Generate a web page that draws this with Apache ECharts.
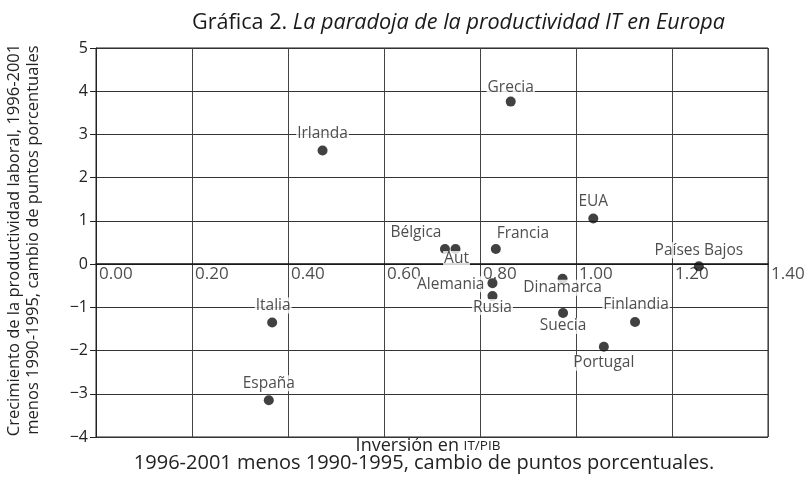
<!DOCTYPE html>
<html>
<head>
<meta charset="utf-8">
<script src="https://cdn.jsdelivr.net/npm/echarts@6/dist/echarts.min.js"></script>
<style>
html,body{margin:0;padding:0;background:#fff;}
#chart{width:804px;height:485px;}
</style>
</head>
<body>
<div id="chart"></div>
<script>
// ---- data ----
const countries = ['Grecia','Irlanda','EUA','Bélgica','Aut','Francia','Países Bajos','Alemania','Rusia','Dinamarca','Suecia','Finlandia','Portugal','Italia','España'];
const itInvestment = [0.864, 0.472, 1.036, 0.727, 0.749, 0.833, 1.256, 0.826, 0.826, 0.972, 0.973, 1.123, 1.058, 0.367, 0.360];
const productivityGrowth = [3.76, 2.63, 1.055, 0.35, 0.35, 0.35, -0.05, -0.44, -0.74, -0.34, -1.13, -1.34, -1.91, -1.35, -3.15];
const xTicks = [0, 0.2, 0.4, 0.6, 0.8, 1.0, 1.2, 1.4];
const yTicks = [-4, -3, -2, -1, 0, 1, 2, 3, 4, 5];

// ---- label placement (style, not data) ----
const labelPlacement = {
  'Grecia': {position: 'top', offset: [0, 3]},
  'Irlanda': {position: 'top', offset: [0, 0]},
  'EUA': {position: 'top', offset: [0, 0]},
  'Bélgica': {position: 'top', offset: [-29, 1]},
  'Aut': {position: 'bottom', offset: [1, -7]},
  'Francia': {position: 'top', offset: [27, 2]},
  'Países Bajos': {position: 'top', offset: [0, 1]},
  'Alemania': {position: 'left', offset: [2, 1]},
  'Rusia': {position: 'bottom', offset: [0, -6]},
  'Dinamarca': {position: 'bottom', offset: [0, -8]},
  'Suecia': {position: 'bottom', offset: [0, -4]},
  'Finlandia': {position: 'top', offset: [1, 0]},
  'Portugal': {position: 'bottom', offset: [0, -1]},
  'Italia': {position: 'top', offset: [1, 0]},
  'España': {position: 'top', offset: [0, 0]}
};

const FONT = '"Open Sans", "Noto Sans", sans-serif';
const points = countries.map((name, i) => {
  const p = labelPlacement[name];
  return {
    name: name,
    value: [itInvestment[i], productivityGrowth[i]],
    label: {position: p.position, offset: p.offset}
  };
});
// x tick labels sit on the zero line, drawn through the library's scales
const xTickPoints = xTicks.map(t => ({name: t.toFixed(2), value: [t, 0]}));

const chart = echarts.init(document.getElementById('chart'), null, {renderer: 'canvas'});
chart.setOption({
  animation: false,
  backgroundColor: '#fff',
  textStyle: {fontFamily: FONT},
  title: [{
    left: 187,
    top: 7,
    text: '{a|Gráfica 2. }{b|La paradoja de la productividad IT en Europa}',
    textStyle: {
      fontWeight: 'normal',
      rich: {
        a: {fontFamily: FONT, fontSize: 21.6, fontWeight: 'normal', color: '#1a1a1a'},
        b: {fontFamily: FONT, fontSize: 21.6, fontWeight: 'normal', fontStyle: 'italic', color: '#1a1a1a'}
      }
    }
  }],
  grid: {left: 96, right: 36, top: 48, bottom: 48, show: true, borderColor: '#222', borderWidth: 1, backgroundColor: 'transparent'},
  xAxis: {
    type: 'value',
    min: xTicks[0],
    max: xTicks[xTicks.length - 1],
    interval: 0.2,
    axisLine: {show: true, onZero: true, lineStyle: {color: '#111', width: 1.5}},
    axisTick: {show: false},
    splitLine: {show: true, lineStyle: {color: '#444', width: 1}},
    axisLabel: {show: false}
  },
  yAxis: {
    type: 'value',
    min: yTicks[0],
    max: yTicks[yTicks.length - 1],
    interval: 1,
    axisLine: {show: true, onZero: false, lineStyle: {color: '#222', width: 1}},
    axisTick: {show: true, length: 6, lineStyle: {color: '#222'}},
    splitLine: {show: true, lineStyle: {color: '#333', width: 1}},
    axisLabel: {
      margin: 8, fontFamily: FONT, fontSize: 16, color: '#222',
      formatter: v => (v < 0 ? '\u2212' + Math.abs(v) : String(v))
    }
  },
  graphic: [
    {
      type: 'text', x: 24, y: 240, rotation: Math.PI / 2,
      style: {
        text: 'Crecimiento de la productividad laboral, 1996-2001\nmenos 1990-1995, cambio de puntos porcentuales',
        font: '16.5px ' + FONT, fill: '#222', align: 'center', verticalAlign: 'middle', lineHeight: 19
      }
    },
    {
      type: 'text', x: 428, y: 446,
      style: {
        text: '{a|Inversión en }{b|IT/PIB}',
        align: 'center', verticalAlign: 'middle',
        rich: {
          a: {fontFamily: FONT, fontSize: 18, fill: '#222', color: '#222'},
          b: {fontFamily: FONT, fontSize: 13.5, fill: '#222', color: '#222'}
        }
      }
    },
    {
      type: 'text', x: 424, y: 463,
      style: {
        text: '1996-2001 menos 1990-1995, cambio de puntos porcentuales.',
        font: '20px ' + FONT, fill: '#222', align: 'center', verticalAlign: 'middle'
      }
    }
  ],
  series: [{
    type: 'scatter',
    symbolSize: 0,
    silent: true,
    data: xTickPoints,
    label: {
      show: true, formatter: p => p.name, position: 'right', distance: 3, offset: [0, 10],
      fontFamily: FONT, fontSize: 17, color: '#222'
    },
    z: 3
  }, {
    type: 'scatter',
    symbol: 'circle',
    symbolSize: 10,
    itemStyle: {color: '#111'},
    data: points,
    label: {
      show: true,
      formatter: p => p.name,
      fontFamily: FONT, fontSize: 15.5, color: '#222',
      backgroundColor: '#fff', padding: [0, 1], distance: 4
    },
    z: 5
  }]
});
</script>
</body>
</html>
